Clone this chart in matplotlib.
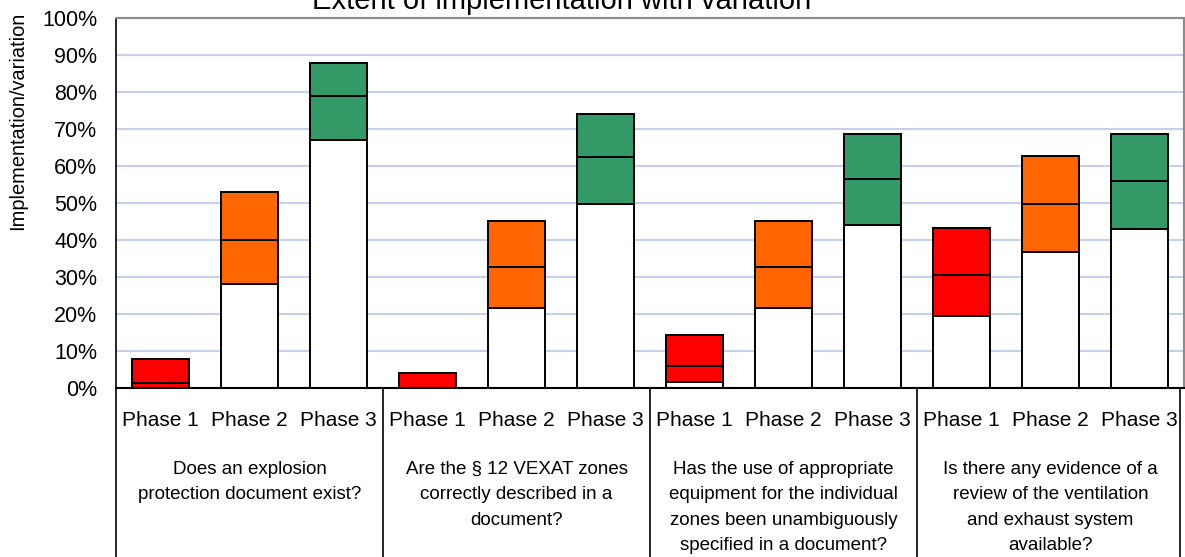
import matplotlib
matplotlib.use("Agg")
import matplotlib.pyplot as plt

plt.rcParams['font.family'] = ['Liberation Sans', 'DejaVu Sans']

# ---- data ----
questions = [
    "Does an explosion\nprotection document exist?",
    "Are the § 12 VEXAT zones\ncorrectly described in a\ndocument?",
    "Has the use of appropriate\nequipment for the individual\nzones been unambiguously\nspecified in a document?",
    "Is there any evidence of a\nreview of the ventilation\nand exhaust system\navailable?",
]
phases = ["Phase 1", "Phase 2", "Phase 3"]
low = [0.0, 28.1, 67.0, 0.0, 21.6, 49.7, 1.5, 21.6, 44.0, 19.5, 36.8, 43.0]
mid = [1.3, 40.0, 78.9, 0.0, 32.7, 62.4, 5.9, 32.7, 56.5, 30.5, 49.7, 56.0]
high = [7.8, 53.0, 87.8, 4.1, 45.1, 74.0, 14.3, 45.1, 68.6, 43.2, 62.7, 68.6]
phase_colors = ["#FF0000", "#FF6600", "#339966"]
yticks = [0, 10, 20, 30, 40, 50, 60, 70, 80, 90, 100]
ytick_labels = [f"{v}%" for v in yticks]
title = "Extent of implementation with variation"
ylabel = "Implementation/variation"

W, H = 1185, 557
fig = plt.figure(figsize=(W / 100, H / 100), dpi=100)
ax = fig.add_axes([116 / W, 1 - 388 / H, (1184 - 116) / W, (388 - 18) / H])

n = len(low)
xs = list(range(n))
colors = [phase_colors[i % 3] for i in range(n)]
bw = 0.65
lw = 1.4
ax.bar(xs, low, bottom=0, width=bw, color="white", edgecolor="black", linewidth=lw, zorder=3)
ax.bar(xs, [m - l for m, l in zip(mid, low)], bottom=low, width=bw, color=colors,
       edgecolor="black", linewidth=lw, zorder=3)
ax.bar(xs, [h - m for h, m in zip(high, mid)], bottom=mid, width=bw, color=colors,
       edgecolor="black", linewidth=lw, zorder=3)

ax.set_xlim(-0.5, n - 0.5)
ax.set_ylim(0, 100)
ax.set_yticks(yticks)
ax.set_yticklabels(ytick_labels, fontsize=15.5)
ax.tick_params(axis='y', length=0, pad=13.5)
ax.set_xticks([])
ax.yaxis.grid(True, color="#C3D0EE", linewidth=1.5, zorder=0)
ax.set_axisbelow(True)

for s in ["top", "right"]:
    ax.spines[s].set_color("#8C8C8C")
    ax.spines[s].set_linewidth(1.5)
ax.spines["left"].set_color("black")
ax.spines["left"].set_linewidth(1.2)
ax.spines["bottom"].set_color("black")
ax.spines["bottom"].set_linewidth(1.5)
ax.spines["bottom"].set_zorder(4)

# category axis table below
ybot = -(557 - 388) / 370 - 0.01
for b in [-0.5, 2.5, 5.5, 8.5, 11.45]:
    ax.plot([b, b], [0, ybot], transform=ax.get_xaxis_transform(), color="black",
            linewidth=1.2, clip_on=False)

for i in range(n):
    ax.text(i, -(420 - 388) / 370, phases[i % 3], transform=ax.get_xaxis_transform(),
            ha="center", va="center", fontsize=15)

for g, q in enumerate(questions):
    ax.text(g * 3 + 1, -(461 - 388) / 370, q, transform=ax.get_xaxis_transform(),
            ha="center", va="top", fontsize=13.5, linespacing=1.64)

fig.text(18 / W, 1 - 121 / H, ylabel, rotation=90, ha="center", va="center", fontsize=14.4)

fig.text(562 / W, 1 - 9 / H, title, ha="center", va="baseline", fontsize=21)

fig.savefig("out.png", dpi=100)
